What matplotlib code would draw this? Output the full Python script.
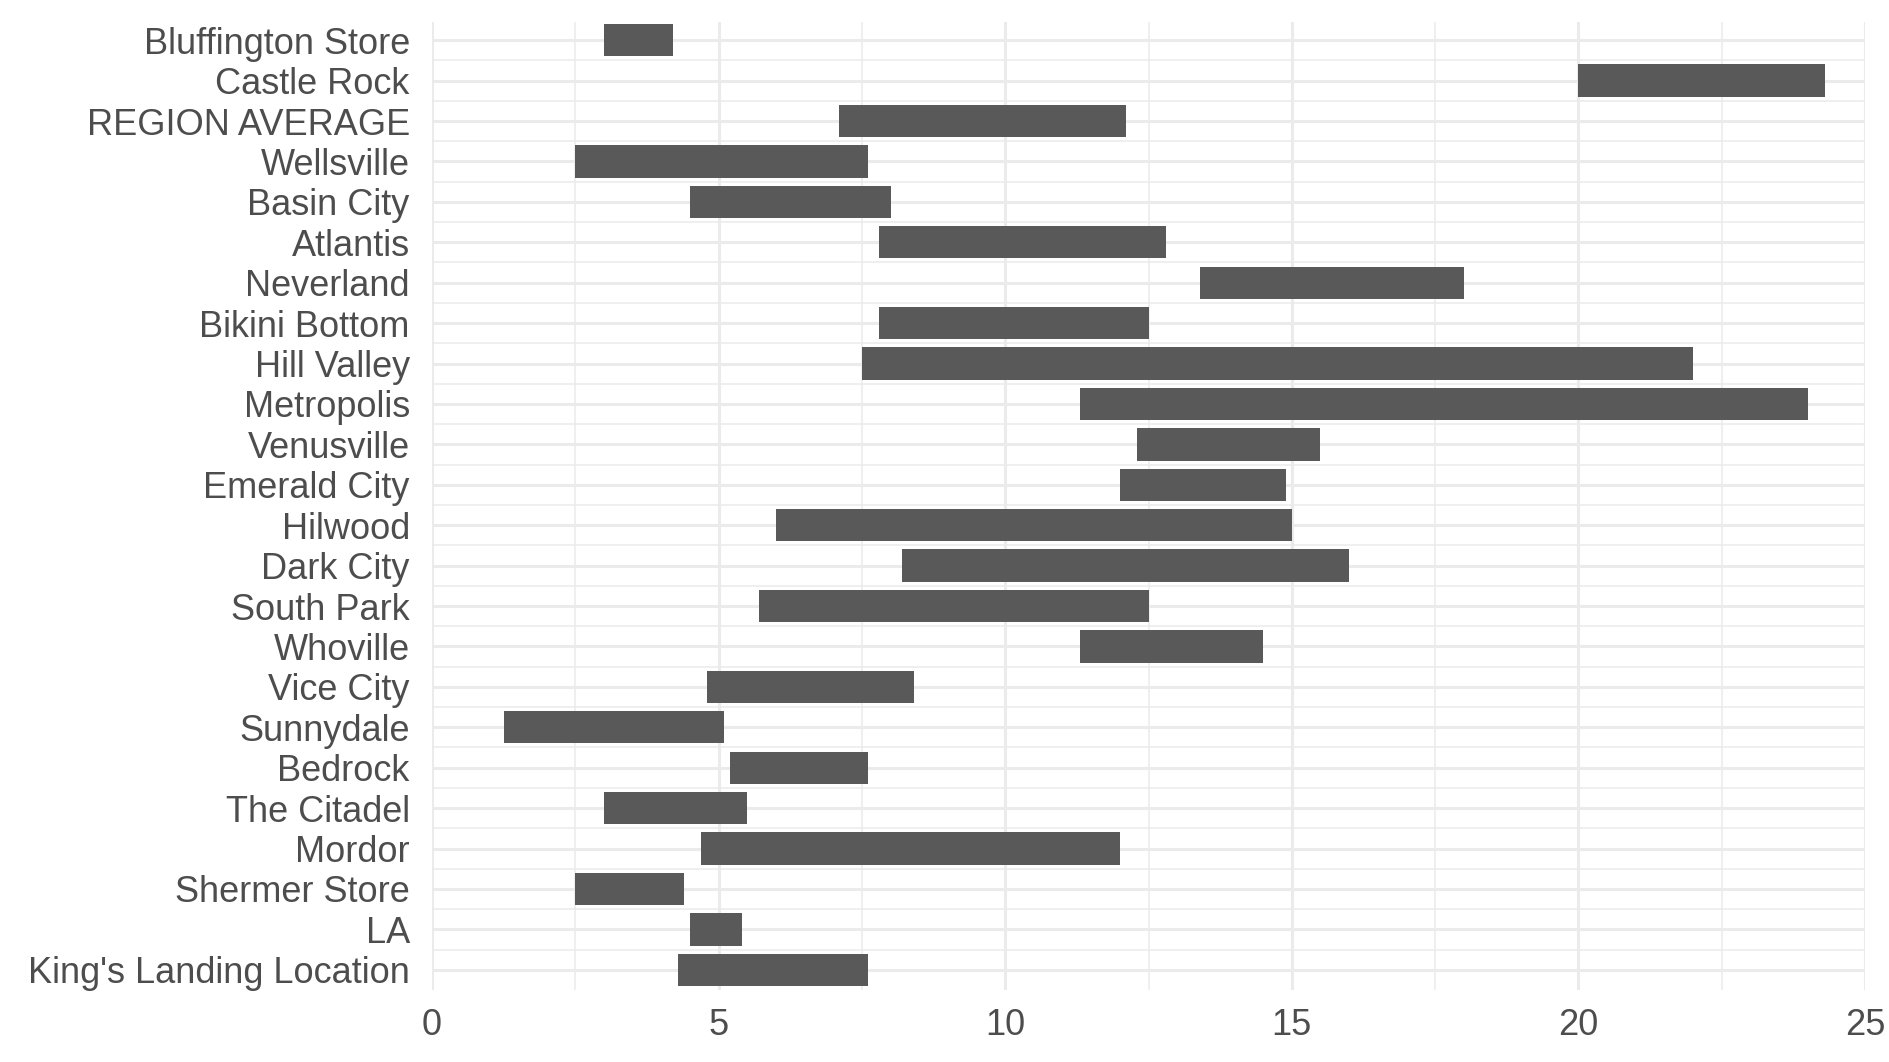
import matplotlib.pyplot as plt
import numpy as np

# categories listed top to bottom as in the chart
locations = [
    "Bluffington Store", "Castle Rock", "REGION AVERAGE", "Wellsville",
    "Basin City", "Atlantis", "Neverland", "Bikini Bottom", "Hill Valley",
    "Metropolis", "Venusville", "Emerald City", "Hilwood", "Dark City",
    "South Park", "Whoville", "Vice City", "Sunnydale", "Bedrock",
    "The Citadel", "Mordor", "Shermer Store", "LA", "King's Landing Location",
]
low = [3.0, 20.0, 7.1, 2.5, 4.5, 7.8, 13.4, 7.8, 7.5, 11.3, 12.3, 12.0,
       6.0, 8.2, 5.7, 11.3, 4.8, 1.25, 5.2, 3.0, 4.7, 2.5, 4.5, 4.3]
high = [4.2, 24.3, 12.1, 7.6, 8.0, 12.8, 18.0, 12.5, 22.0, 24.0, 15.5, 14.9,
        15.0, 16.0, 12.5, 14.5, 8.4, 5.1, 7.6, 5.5, 12.0, 4.4, 5.4, 7.6]
x_ticks = [0, 5, 10, 15, 20, 25]

plt.rcParams['font.family'] = ['Liberation Sans', 'DejaVu Sans']

fig = plt.figure(figsize=(18.89, 10.62), dpi=100)
ax = fig.add_axes([0.2287, 0.0678, 0.7586, 0.9115])

n = len(locations)
ypos = np.arange(n, 0, -1)
widths = np.array(high) - np.array(low)

grid = "#EBEBEB"
# minor grid
for v in np.arange(2.5, 25, 5):
    ax.axvline(v, color=grid, lw=1.1, zorder=0)
for v in np.arange(1.5, n, 1):
    ax.axhline(v, color=grid, lw=1.1, zorder=0)
# major grid
for v in x_ticks:
    ax.axvline(v, color=grid, lw=2.2, zorder=0)
for v in ypos:
    ax.axhline(v, color=grid, lw=2.2, zorder=0)

ax.barh(ypos, widths, left=low, height=0.8, color="#595959", zorder=2)

ax.set_xlim(0, 25)
ax.set_ylim(0.5, n + 0.45)
ax.set_xticks(x_ticks)
ax.set_xticklabels([str(t) for t in x_ticks])
ax.set_yticks(ypos)
ax.set_yticklabels(locations)
ax.tick_params(axis="both", length=0, labelsize=26, labelcolor="#4D4D4D")
ax.tick_params(axis="y", pad=16)
ax.tick_params(axis="x", pad=13)
for s in ax.spines.values():
    s.set_visible(False)

fig.savefig("out.png", dpi=100)
